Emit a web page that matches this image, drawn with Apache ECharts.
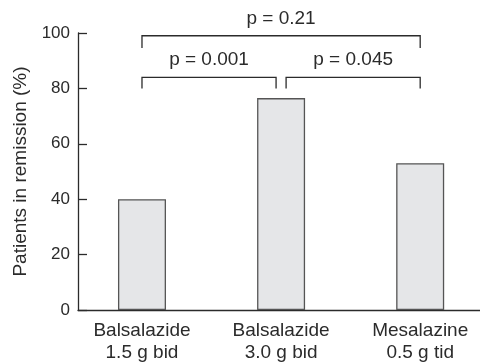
<!DOCTYPE html>
<html>
<head>
<meta charset="utf-8">
<script src="https://cdn.jsdelivr.net/npm/echarts@6/dist/echarts.min.js"></script>
<style>
  html, body { margin: 0; padding: 0; background: #fff; }
  #chart { width: 480px; height: 364px; }
</style>
</head>
<body>
<div id="chart"></div>
<script>
var categories = ['Balsalazide\n1.5 g bid', 'Balsalazide\n3.0 g bid', 'Mesalazine\n0.5 g tid'];
var remission = [40, 76.5, 53];
var yTicks = [0, 20, 40, 60, 80, 100];

// comparison brackets: [from, to, bottom, top, labelY]
var bracketSpans = [[0, 0.964, 80, 84, 90.4], [1.036, 2, 80, 84, 90.4], [0, 2, 94.6, 99, 105]];
var bracketLabels = ['p = 0.001', 'p = 0.045', 'p = 0.21'];

var ink = '#2b2b2b';
var chart = echarts.init(document.getElementById('chart'));

chart.setOption({
  animation: false,
  grid: { left: 78, right: 0, top: 33, bottom: 51 },
  xAxis: {
    type: 'value',
    min: -0.46,
    max: 2.43,
    splitLine: { show: false },
    axisTick: { show: false },
    axisLine: { onZero: false, lineStyle: { color: ink, width: 1.3 } },
    axisLabel: {
      customValues: [0, 1, 2],
      formatter: function (v) { return categories[Math.round(v)]; },
      color: ink,
      fontFamily: 'Liberation Sans',
      fontSize: 19,
      lineHeight: 22,
      margin: 10
    }
  },
  yAxis: {
    type: 'value',
    min: 0,
    max: 100,
    interval: 20,
    name: 'Patients in remission (%)',
    nameLocation: 'middle',
    nameGap: 44,
    nameTextStyle: { color: ink, fontFamily: 'Liberation Sans', fontSize: 19 },
    splitLine: { show: false },
    axisLine: { show: true, onZero: false, lineStyle: { color: ink, width: 1.3 } },
    axisTick: { show: true, inside: true, length: 9, lineStyle: { color: ink, width: 1.3 } },
    axisLabel: {
      color: ink,
      fontFamily: 'Liberation Sans',
      fontSize: 17,
      margin: 8,
      formatter: function (v) { return yTicks.indexOf(v) >= 0 ? String(v) : ''; }
    }
  },
  series: [
    {
      type: 'bar',
      barWidth: 48,
      data: remission.map(function (v, i) { return [i, v]; }),
      itemStyle: { color: '#e5e6e8', borderColor: '#555', borderWidth: 1.3 }
    },
    {
      type: 'custom',
      clip: false,
      data: bracketSpans,
      renderItem: function (params, api) {
        var a = api.coord([api.value(0), api.value(2)]);
        var b = api.coord([api.value(0), api.value(3)]);
        var c = api.coord([api.value(1), api.value(3)]);
        var d = api.coord([api.value(1), api.value(2)]);
        var t = api.coord([(api.value(0) + api.value(1)) / 2, api.value(4)]);
        return {
          type: 'group',
          children: [
            {
              type: 'polyline',
              shape: { points: [a, b, c, d] },
              style: { stroke: ink, lineWidth: 1.3, fill: null }
            },
            {
              type: 'text',
              x: t[0],
              y: t[1],
              style: {
                text: bracketLabels[params.dataIndex],
                fill: ink,
                font: '19px "Liberation Sans"',
                align: 'center',
                verticalAlign: 'middle'
              }
            }
          ]
        };
      }
    }
  ]
});
</script>
</body>
</html>
